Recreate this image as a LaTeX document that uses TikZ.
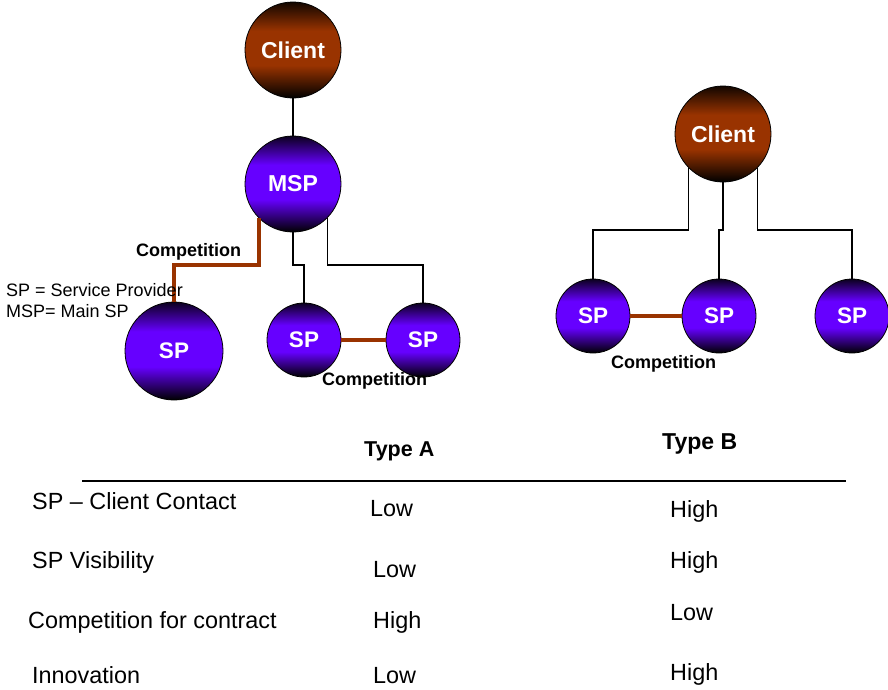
\documentclass[tikz,border=0pt]{standalone}
\usepackage{fontspec}
\setmainfont{Liberation Sans}
\usepackage{xcolor}
\usepackage{tikz}
\usetikzlibrary{shapes,calc,positioning}
\definecolor{spviolet}{HTML}{6600FF}
\definecolor{clbrown}{HTML}{993300}
\pgfdeclareverticalshading{spball}{100bp}{color(0bp)=(black); color(25bp)=(black); color(42bp)=(spviolet); color(60bp)=(spviolet); color(75bp)=(spviolet!12!black); color(100bp)=(spviolet!12!black)}
\pgfdeclareverticalshading{clball}{100bp}{color(0bp)=(black); color(25bp)=(black); color(42bp)=(clbrown); color(60bp)=(clbrown); color(75bp)=(clbrown!12!black); color(100bp)=(clbrown!12!black)}
\tikzset{
  ballnode/.style = {circle, draw=black, line width=0.8pt, inner sep=0pt, align=center, text=white},
  cl_n/.style = {ballnode, shade, shading=clball, minimum size=96pt, font=\fontsize{23}{23}\selectfont\bfseries},
  msp_n/.style = {ballnode, shade, shading=spball, minimum size=96pt, font=\fontsize{23}{23}\selectfont\bfseries},
  sp_b/.style = {ballnode, shade, shading=spball, minimum size=98pt, font=\fontsize{22.5}{22.5}\selectfont\bfseries},
  sp_n/.style = {ballnode, shade, shading=spball, minimum size=74pt, font=\fontsize{22.5}{22.5}\selectfont\bfseries},
  tie/.style = {draw=black, line width=1.4pt},
  rival/.style = {draw=clbrown, line width=4pt},
  comp_l/.style = {inner sep=0pt, anchor=base west, font=\fontsize{18}{18}\selectfont\bfseries},
  note_l/.style = {inner sep=0pt, anchor=base west, font=\fontsize{18}{18}\selectfont},
  head_l/.style = {inner sep=0pt, anchor=base west, font=\fontsize{23}{23}\selectfont\bfseries},
  row_l/.style = {inner sep=0pt, anchor=base west, font=\fontsize{23.4}{23.4}\selectfont}
}
\begin{document}
\begin{tikzpicture}[x=1pt,y=-1pt]
\useasboundingbox (0,0) rectangle (888,689);
% type A: client, main SP and its SPs
\node [cl_n] (clA) at (293,50) {Client};
\node [msp_n] (msp) at (293,184) {MSP};
\node [sp_b] (spA1) at (174,351) {SP};
\node [sp_n] (spA2) at (304,340) {SP};
\node [sp_n] (spA3) at (423,340) {SP};
\draw [tie] (clA) -- (msp);
\draw [rival] (msp.-135) -- (msp.-135 |- 0,265) -| (spA1.north);
\draw [tie] (msp.south) -- (msp.south |- 0,265) -| (spA2.north);
\draw [tie] (msp.-45) -- (msp.-45 |- 0,265) -| (spA3.north);
\draw [rival] (spA2) -- (spA3);
\node [comp_l] (cmpA1) at (136,256) {Competition};
\node [comp_l] (cmpA2) at (322,385) {Competition};
\node [note_l] (key1) at (6,296) {SP = Service Provider};
\node [note_l] (key2) at (6,317) {MSP= Main SP};
% type B: client with its SPs
\node [cl_n] (clB) at (723,134) {Client};
\node [sp_n] (spB1) at (593,316) {SP};
\node [sp_n] (spB2) at (719,316) {SP};
\node [sp_n] (spB3) at (852,316) {SP};
\draw [tie] (clB.-135) -- (clB.-135 |- 0,230) -| (spB1.north);
\draw [tie] (clB.south) -- (clB.south |- 0,230) -| (spB2.north);
\draw [tie] (clB.-45) -- (clB.-45 |- 0,230) -| (spB3.north);
\draw [rival] (spB1) -- (spB2);
\node [comp_l] (cmpB) at (611,368) {Competition};
% comparison table
\node [head_l, font=\fontsize{21.5}{21.5}\selectfont\bfseries] (typA) at (364,456) {Type A};
\node [head_l] (typB) at (662,449) {Type B};
\coordinate (ruleL) at (82,481);
\coordinate (ruleR) at (846,481);
\draw [line width=1.8pt] (ruleL) -- (ruleR);
\node [row_l] (r1) at (32,509) {SP -- Client Contact};
\node [row_l] (r1a) at (370,516) {Low};
\node [row_l] (r1b) at (670,517) {High};
\node [row_l] (r2) at (32,568) {SP Visibility};
\node [row_l] (r2a) at (373,577) {Low};
\node [row_l] (r2b) at (670,568) {High};
\node [row_l] (r3) at (28,628) {Competition for contract};
\node [row_l] (r3a) at (373,628) {High};
\node [row_l] (r3b) at (670,620) {Low};
\node [row_l] (r4) at (32,683) {Innovation};
\node [row_l] (r4a) at (373,683) {Low};
\node [row_l] (r4b) at (670,680) {High};
\end{tikzpicture}
\end{document}
